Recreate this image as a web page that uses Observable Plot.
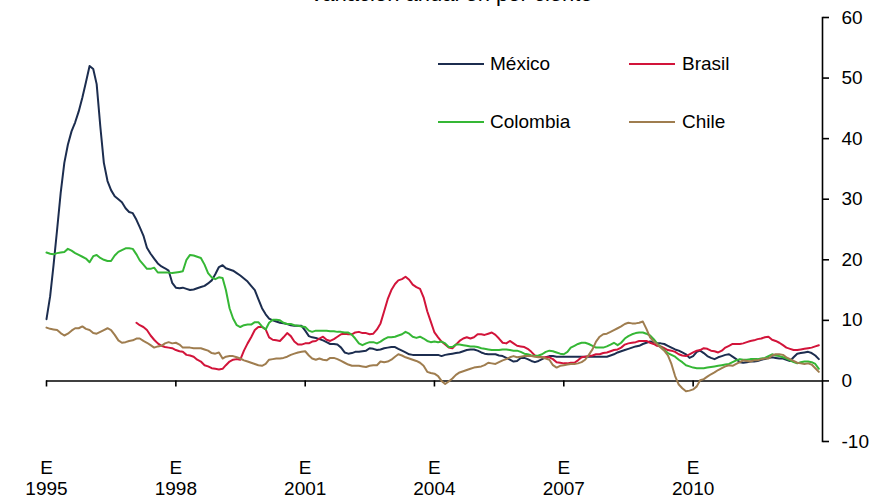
<!DOCTYPE html>
<html>
<head>
<meta charset="utf-8">
<script src="https://cdn.jsdelivr.net/npm/d3@7"></script>
<script src="https://cdn.jsdelivr.net/npm/@observablehq/plot@0.6"></script>
<style>
  html, body { margin: 0; padding: 0; background: #fff; }
  body { width: 872px; height: 500px; overflow: hidden; position: relative; font-family: "Liberation Sans", Arial, sans-serif; }
  #title { position: absolute; left: 0; width: 902px; top: -17.5px; text-align: center; font-size: 22px; line-height: 22px; color: #000; }
  #chart { position: absolute; left: 0; top: 0; }
  .leg { position: absolute; display: flex; align-items: center; height: 22px; font-size: 19px; color: #000; }
  .leg span.sw { display: inline-block; width: 46px; height: 2px; margin-right: 6px; }
</style>
</head>
<body>
<div id="chart"></div>
<div id="title">Variación anual en por ciento</div>
<div id="legend"></div>
<script>
// Monthly values, Jan 1995 – Dec 2012 (annual % change)
const mexico = [
  10.2, 14, 19, 25, 31, 36, 39, 41.2, 42.7, 44.5, 46.8, 49.3,
  52, 51.5, 49, 42, 36, 33, 31.5, 30.5, 30, 29.5, 28.5, 27.9,
  27.7, 26.6, 25.4, 24, 22, 21, 20.2, 19.4, 18.9, 18.6, 18.2, 16.2,
  15.4, 15.3, 15.4, 15.2, 15, 15.1, 15.3, 15.5, 15.7, 16.1, 16.6, 17.6,
  18.8, 19.1, 18.6, 18.4, 18.2, 17.8, 17.4, 16.9, 16.4, 15.7, 15, 13.5,
  12, 11, 10.3, 10, 9.8, 9.6, 9.5, 9.4, 9.2, 9.1, 9.1, 9.1,
  8.3, 7.4, 7.2, 7.1, 6.9, 6.7, 6.4, 6.1, 6.1, 6.0, 5.5, 4.7,
  4.5, 4.6, 4.8, 4.8, 4.9, 5, 5.4, 5.3, 5.1, 5.2, 5.4, 5.5,
  5.6, 5.6, 5.3, 5, 4.7, 4.4, 4.3, 4.3, 4.3, 4.3, 4.3, 4.3,
  4.3, 4.3, 4.1, 4.3, 4.4, 4.5, 4.6, 4.7, 4.9, 5.1, 5.2, 5.2,
  5.0, 4.7, 4.5, 4.4, 4.4, 4.4, 4.2, 4.1, 3.8, 3.5, 3.2, 3.3,
  3.8, 3.8, 3.6, 3.3, 3.1, 3.3, 3.6, 3.9, 4.1, 4.1, 4.0, 4.0,
  4.0, 4.0, 4.0, 4.0, 4.0, 4.0, 4.0, 4.0, 4.0, 4.0, 4.0, 4.0,
  4.0, 4.2, 4.4, 4.7, 4.9, 5.1, 5.3, 5.5, 5.7, 5.8, 6.1, 6.3,
  6.5, 6.4, 6.2, 6.2, 6.1, 5.8, 5.5, 5.2, 5.0, 4.7, 4.4, 3.8,
  4.1, 4.8, 5.0, 4.6, 4.1, 3.8, 3.6, 3.9, 4.1, 4.3, 4.4, 4.0,
  3.6, 3.1, 3.0, 3.1, 3.2, 3.2, 3.3, 3.5, 3.6, 3.8, 3.9, 3.8,
  3.7, 3.7, 3.5, 3.3, 3.9, 4.5, 4.6, 4.7, 4.8, 4.6, 4.2, 3.6
];
// Brasil starts Feb 1997
const brasilStart = "1997-02-01";
const brasil = [
  9.6, 9.2, 8.9, 8.4, 7.5, 6.8, 6.2, 5.8, 5.6, 5.5, 5.4,
  5.1, 4.9, 4.8, 4.3, 4.2, 4.0, 3.5, 3.2, 2.6, 2.4, 2.1, 2.0,
  1.9, 2.0, 2.6, 3.2, 3.5, 3.6, 3.5, 5.0, 6.2, 7.2, 8.4, 8.9,
  8.9, 8.5, 7.2, 6.8, 6.7, 6.6, 7.2, 7.9, 7.4, 6.5, 6.0, 6.0,
  6.2, 6.2, 6.5, 6.6, 7.0, 7.3, 6.8, 6.6, 6.9, 7.3, 7.7, 7.8,
  7.7, 7.7, 8.0, 8.1, 7.9, 7.9, 7.7, 7.8, 8.5, 9.5, 11.5, 13.5,
  15.0, 16.0, 16.6, 16.8, 17.2, 16.7, 15.9, 15.5, 15.2, 13.8, 11.5, 9.8,
  8.0, 7.2, 6.5, 6.0, 5.5, 5.4, 6.0, 6.6, 7.0, 7.2, 7.0, 7.2,
  7.7, 7.7, 7.6, 7.8, 8.0, 7.6, 7.0, 6.3, 6.2, 6.6, 6.2, 5.8,
  5.7, 5.6, 5.3, 4.8, 4.2, 4.0, 3.9, 3.9, 3.9, 3.6, 3.1, 3.0,
  2.9, 2.9, 3.0, 3.0, 3.4, 3.9, 4.0, 4.1, 4.2, 4.4, 4.4, 4.6,
  4.7, 4.9, 5.1, 5.2, 5.5, 6.0, 6.2, 6.3, 6.4, 6.6, 6.6, 6.6,
  6.3, 6.1, 5.8, 5.7, 5.4, 5.1, 5.0, 4.8, 4.4, 4.2, 4.1, 4.4,
  4.7, 5.0, 5.1, 5.4, 5.3, 5.0, 4.9, 4.7, 5.0, 5.5, 5.8, 6.1,
  6.1, 6.1, 6.2, 6.4, 6.6, 6.7, 6.9, 7.0, 7.2, 7.3, 6.8, 6.6,
  6.3, 5.9, 5.5, 5.3, 5.1, 5.1, 5.2, 5.3, 5.4, 5.5, 5.7, 5.9
];
const colombia = [
  21.2, 21.0, 20.9, 21.1, 21.2, 21.3, 21.8, 21.5, 21.1, 20.8, 20.5, 20.2,
  19.6, 20.6, 20.8, 20.3, 20.0, 19.8, 19.8, 20.7, 21.3, 21.6, 21.9, 21.9,
  21.8, 20.9, 19.9, 19.2, 18.5, 18.5, 18.7, 17.9, 17.9, 17.9, 17.9, 17.8,
  17.9, 18.0, 18.1, 20.0, 20.8, 20.7, 20.5, 20.3, 19.2, 17.8, 17.1, 16.8,
  17.1, 17.0, 15.0, 12.0, 10.3, 9.2, 8.9, 9.2, 9.3, 9.3, 9.7, 9.7,
  9.0, 8.5, 9.6, 10.1, 10.1, 10.0, 9.6, 9.4, 9.4, 9.2, 9.1, 9.0,
  8.9, 8.3, 8.1, 8.3, 8.3, 8.3, 8.3, 8.2, 8.2, 8.1, 8.1, 8.0,
  8.0, 7.6, 7.0, 6.2, 5.9, 6.2, 6.4, 6.4, 6.2, 6.5, 6.9, 7.2,
  7.2, 7.3, 7.5, 7.7, 8.1, 7.8, 7.3, 7.1, 7.3, 7.0, 6.6, 6.4,
  6.5, 6.4, 6.5, 6.2, 5.6, 5.6, 6.0, 6.0, 5.9, 5.8, 5.7, 5.7,
  5.6, 5.4, 5.3, 5.2, 5.1, 5.1, 5.1, 5.2, 5.2, 5.1, 5.0, 5.0,
  4.8, 4.5, 4.4, 4.2, 4.1, 4.2, 4.4, 4.8, 5.0, 4.9, 4.7, 4.5,
  4.4, 4.8, 5.5, 5.8, 6.1, 6.3, 6.3, 6.1, 5.8, 5.5, 5.5, 5.5,
  5.7, 6.0, 6.3, 5.9, 6.3, 7.0, 7.4, 7.7, 7.9, 8.0, 8.0, 7.8,
  7.5, 6.9, 6.2, 5.6, 5.1, 4.6, 4.3, 4.0, 3.5, 3.1, 2.6, 2.4,
  2.2, 2.1, 2.1, 2.1, 2.2, 2.3, 2.4, 2.5, 2.6, 2.7, 2.8, 3.1,
  3.4, 3.6, 3.5, 3.5, 3.6, 3.6, 3.6, 3.7, 3.8, 4.1, 4.4, 4.2,
  4.1, 3.9, 3.7, 3.4, 3.1, 2.9, 3.1, 3.2, 3.2, 3.1, 2.8, 2.0
];
const chile = [
  8.8, 8.6, 8.5, 8.4, 7.9, 7.5, 7.8, 8.3, 8.7, 8.7, 9.0, 8.6,
  8.4, 7.9, 7.8, 8.1, 8.4, 8.7, 8.4, 7.6, 6.7, 6.3, 6.4, 6.6,
  6.7, 7.0, 7.0, 6.6, 6.3, 5.9, 5.5, 5.7, 5.8, 6.2, 6.4, 6.2,
  6.3, 6.0, 5.5, 5.5, 5.5, 5.4, 5.4, 5.4, 5.2, 5.0, 4.6, 4.5,
  4.7, 3.7, 4.0, 4.1, 4.1, 3.9, 3.7, 3.4, 3.2, 3.0, 2.8, 2.6,
  2.5, 2.8, 3.5, 3.6, 3.7, 3.7, 3.8, 4.0, 4.3, 4.5, 4.7, 4.8,
  4.9, 4.2, 3.7, 3.5, 3.7, 3.5, 3.4, 3.8, 3.8, 3.6, 3.3, 3.0,
  2.7, 2.5, 2.5, 2.5, 2.4, 2.3, 2.5, 2.6, 2.6, 3.2, 3.1, 3.2,
  3.5, 4.0, 4.4, 4.2, 3.9, 3.7, 3.5, 3.3, 3.0, 2.5, 1.5, 1.3,
  1.2, 0.8, 0.0, -0.5, -0.1, 0.4, 1.0, 1.4, 1.6, 1.8, 2.0, 2.2,
  2.3, 2.4, 2.6, 3.0, 2.9, 2.8, 3.1, 3.4, 3.6, 3.9, 4.1, 3.9,
  4.0, 4.1, 4.1, 4.1, 4.0, 3.9, 3.9, 3.7, 3.5, 2.6, 2.2, 2.5,
  2.6, 2.7, 2.8, 2.8, 2.9, 3.1, 3.5, 4.3, 5.2, 6.5, 7.3, 7.7,
  7.8, 8.1, 8.4, 8.7, 9.0, 9.4, 9.6, 9.5, 9.5, 9.6, 9.8, 8.6,
  7.2, 6.5, 6.1, 5.5, 5.0, 4.2, 2.8, 0.8, -0.6, -1.2, -1.7, -1.6,
  -1.4, -0.9, 0.1, 0.3, 0.7, 1.1, 1.4, 1.8, 2.1, 2.4, 2.6, 2.5,
  2.8, 3.1, 3.4, 3.3, 3.2, 3.4, 3.4, 3.6, 3.7, 3.7, 4.2, 4.4,
  4.4, 4.3, 3.9, 3.6, 3.3, 3.0, 2.9, 2.8, 2.9, 2.7, 2.1, 1.5
];

const countries = ["México", "Brasil", "Colombia", "Chile"];
const colors = ["#1c2d4f", "#d2143a", "#35b735", "#9f7d4f"];
const starts = ["1995-01-01", brasilStart, "1995-01-01", "1995-01-01"];
const values = [mexico, brasil, colombia, chile];
const xTickYears = [1995, 1998, 2001, 2004, 2007, 2010];
const yTicks = [-10, 0, 10, 20, 30, 40, 50, 60];
const xDomain = ["1995-01-01", "2013-01-01"];

const rows = countries.flatMap((c, k) => {
  const s = new Date(starts[k]);
  return values[k].map((v, i) => ({country: c, date: d3.utcMonth.offset(s, i), value: v}));
});
const tickDates = xTickYears.map(y => new Date(Date.UTC(y, 0, 1)));

const chart = Plot.plot({
  width: 872,
  height: 500,
  marginLeft: 46,
  marginRight: 50,
  marginTop: 17,
  marginBottom: 59,
  style: {fontFamily: "'Liberation Sans', Arial, sans-serif", fontSize: "19px", color: "#000", background: "transparent", overflow: "visible"},
  x: {type: "utc", domain: xDomain.map(d => new Date(d)), axis: null, label: null},
  y: {domain: [-10, 60], axis: null, label: null},
  color: {domain: countries, range: colors},
  marks: [
    Plot.ruleY([0], {stroke: "#000", strokeWidth: 1.6}),
    Plot.ruleX(tickDates, {x: d => d, y1: 0, y2: -1, stroke: "#000", strokeWidth: 1.6}),
    Plot.axisX(tickDates, {anchor: "bottom", tickSize: 0, tickPadding: 17, fontSize: 19, lineHeight: 1.12,
      label: null, tickFormat: d => "E\n" + d.getUTCFullYear()}),
    Plot.frame({anchor: "right", stroke: "#000", strokeWidth: 1.6}),
    Plot.axisY(yTicks, {anchor: "right", tickSize: 6, tickPadding: 13, fontSize: 19, strokeWidth: 1.6,
      label: null, tickFormat: d => String(d)}),
    Plot.line(rows, {x: "date", y: "value", z: "country", stroke: "country", strokeWidth: 2})
  ]
});
document.getElementById("chart").appendChild(chart);

// Legend (two rows, two columns) overlaid on the plot area
const legPos = [[438, 53], [629, 53], [438, 111], [629, 111]];
const legGap = [6, 7, 6, 7];
const legend = document.getElementById("legend");
countries.forEach((c, k) => {
  const d = document.createElement("div");
  d.className = "leg";
  d.style.left = legPos[k][0] + "px";
  d.style.top = legPos[k][1] + "px";
  d.innerHTML = `<span class="sw" style="background:${colors[k]};margin-right:${legGap[k]}px"></span><span>${c}</span>`;
  legend.appendChild(d);
});
</script>
</body>
</html>
